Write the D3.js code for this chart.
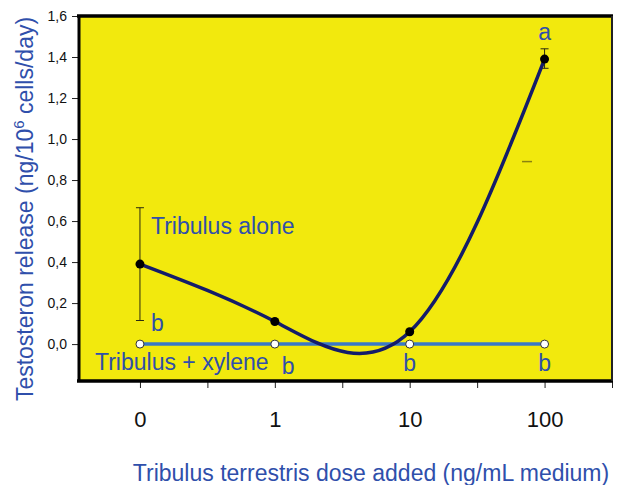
<!DOCTYPE html>
<html>
<head>
    <meta charset="utf-8">
    <style>
        body { margin: 0; background: white; }
        svg { font-family: 'Liberation Sans', Arial, sans-serif; }
    </style>
</head>
<body>
<svg width="623" height="485"></svg>

<script src="https://d3js.org/d3.v7.min.js"></script>
<script>
    // data
    let doses = ["0", "1", "10", "100"];
    let aloneValues = [0.39, 0.11, 0.06, 1.39];
    let aloneErrUp = [0.665, null, null, 1.44];
    let aloneErrDown = [0.115, null, null, 1.345];
    let xyleneValues = [0, 0, 0, 0];
    let yTicks = [0, 0.2, 0.4, 0.6, 0.8, 1.0, 1.2, 1.4, 1.6];
    let letters = [
        {i: 0, v: 0.064, t: "b", dx: 11},
        {i: 1, v: -0.147, t: "b", dx: 7},
        {i: 2, v: -0.132, t: "b", dx: 0},
        {i: 3, v: -0.132, t: "b", dx: 0},
        {i: 3, v: 1.482, t: "a", dx: 0}
    ];
    // a stray error cap that sits on its own in the original
    let strayCap = {i: 2.87, v: 0.89};

    let box = {left: 79, right: 612, top: 16, bottom: 381};
    let svg = d3.select("svg");

    let x = d3.scaleLinear().domain([-0.452, 3.5]).range([box.left, box.right]);
    let y = d3.scaleLinear().domain([-0.18, 1.6]).range([box.bottom, box.top]);

    let blue = "#2f4fab";

    // plot background
    svg.append("rect")
        .attr("x", box.left).attr("y", box.top)
        .attr("width", box.right - box.left).attr("height", box.bottom - box.top)
        .attr("fill", "#f2e90d");

    // y axis
    let yAxis = d3.axisLeft(y).tickValues(yTicks).tickSize(7).tickSizeOuter(0)
        .tickFormat(d => d3.format(".1f")(d).replace(".", ","));
    let gy = svg.append("g").attr("transform", "translate(" + box.left + ",0)").call(yAxis);
    gy.select(".domain").remove();
    gy.selectAll("line").attr("stroke", "#222");
    gy.selectAll("text").attr("font-size", 14).attr("fill", "#111").attr("dx", -2);

    // x axis
    let xAxis = d3.axisBottom(x).tickValues(d3.range(0, 3.51, 0.5)).tickSize(7).tickSizeOuter(0)
        .tickFormat(d => Number.isInteger(d) ? doses[d] : "");
    let gx = svg.append("g").attr("transform", "translate(0," + box.bottom + ")").call(xAxis);
    gx.select(".domain").remove();
    gx.selectAll("line").attr("stroke", "#222");
    gx.selectAll("text").attr("font-size", 22).attr("fill", "#111").attr("y", 46).attr("dy", 0);

    // frame
    svg.append("line").attr("x1", box.left - 2).attr("x2", box.right + 1).attr("y1", box.top).attr("y2", box.top)
        .attr("stroke", "#000").attr("stroke-width", 3.5);
    svg.append("line").attr("x1", box.left - 2).attr("x2", box.right + 1).attr("y1", box.bottom).attr("y2", box.bottom)
        .attr("stroke", "#000").attr("stroke-width", 3.5);
    svg.append("line").attr("x1", box.left).attr("x2", box.left).attr("y1", box.top).attr("y2", box.bottom)
        .attr("stroke", "#000").attr("stroke-width", 3);
    svg.append("line").attr("x1", box.right).attr("x2", box.right).attr("y1", box.top).attr("y2", box.bottom)
        .attr("stroke", "#222").attr("stroke-width", 2);

    // error bars
    let errs = aloneValues.map((v, i) => ({i: i, up: aloneErrUp[i], down: aloneErrDown[i]}))
        .filter(d => d.up != null);
    let eg = svg.append("g").attr("stroke", "#2a2a10").attr("stroke-width", 1);
    eg.selectAll(".stem").data(errs).join("line")
        .attr("x1", d => x(d.i)).attr("x2", d => x(d.i))
        .attr("y1", d => y(d.up)).attr("y2", d => y(d.down));
    eg.selectAll(".capU").data(errs).join("line")
        .attr("x1", d => x(d.i) - 4).attr("x2", d => x(d.i) + 4)
        .attr("y1", d => y(d.up)).attr("y2", d => y(d.up));
    eg.selectAll(".capD").data(errs).join("line")
        .attr("x1", d => x(d.i) - 4).attr("x2", d => x(d.i) + 4)
        .attr("y1", d => y(d.down)).attr("y2", d => y(d.down));
    svg.append("line")
        .attr("x1", x(strayCap.i) - 5).attr("x2", x(strayCap.i) + 5)
        .attr("y1", y(strayCap.v)).attr("y2", y(strayCap.v))
        .attr("stroke", "#8a8210").attr("stroke-width", 1.5);

    // xylene line
    let line = d3.line().x((d, i) => x(i)).y(d => y(d));
    svg.append("path").datum(xyleneValues)
        .attr("d", line)
        .attr("fill", "none").attr("stroke", "#3a78c6").attr("stroke-width", 3.5);

    // tribulus alone curve
    let curve = d3.line().x((d, i) => x(i)).y(d => y(d)).curve(d3.curveNatural);
    svg.append("path").datum(aloneValues)
        .attr("d", curve)
        .attr("fill", "none").attr("stroke", "#141c6a").attr("stroke-width", 3.5);

    svg.selectAll(".open").data(xyleneValues).join("circle")
        .attr("cx", (d, i) => x(i)).attr("cy", d => y(d)).attr("r", 4)
        .attr("fill", "white").attr("stroke", "#333").attr("stroke-width", 1);

    svg.selectAll(".filled").data(aloneValues).join("circle")
        .attr("cx", (d, i) => x(i)).attr("cy", d => y(d)).attr("r", 4.5)
        .attr("fill", "#000");

    // labels inside plot
    svg.append("text").attr("x", x(0) + 11).attr("y", y(0.538)).text("Tribulus alone")
        .attr("font-size", 23).attr("fill", blue);
    svg.append("text").attr("x", 95).attr("y", y(-0.127)).text("Tribulus + xylene")
        .attr("font-size", 23).attr("fill", blue);
    svg.selectAll(".letter").data(letters).join("text")
        .attr("x", d => x(d.i) + d.dx).attr("y", d => y(d.v))
        .attr("text-anchor", d => d.dx ? "start" : "middle")
        .attr("font-size", 23).attr("fill", blue)
        .text(d => d.t);

    // axis titles
    let yt = svg.append("text")
        .attr("transform", "translate(33,209) rotate(-90)")
        .attr("text-anchor", "middle").attr("font-size", 23).attr("fill", blue);
    yt.append("tspan").text("Testosteron release (ng/10");
    yt.append("tspan").text("6").attr("font-size", 15).attr("dy", -9);
    yt.append("tspan").text(" cells/day)").attr("dy", 9);

    svg.append("text").attr("x", 371).attr("y", 481)
        .attr("text-anchor", "middle").attr("font-size", 23).attr("fill", blue)
        .text("Tribulus terrestris dose added (ng/mL medium)");
</script>
</body>
</html>
